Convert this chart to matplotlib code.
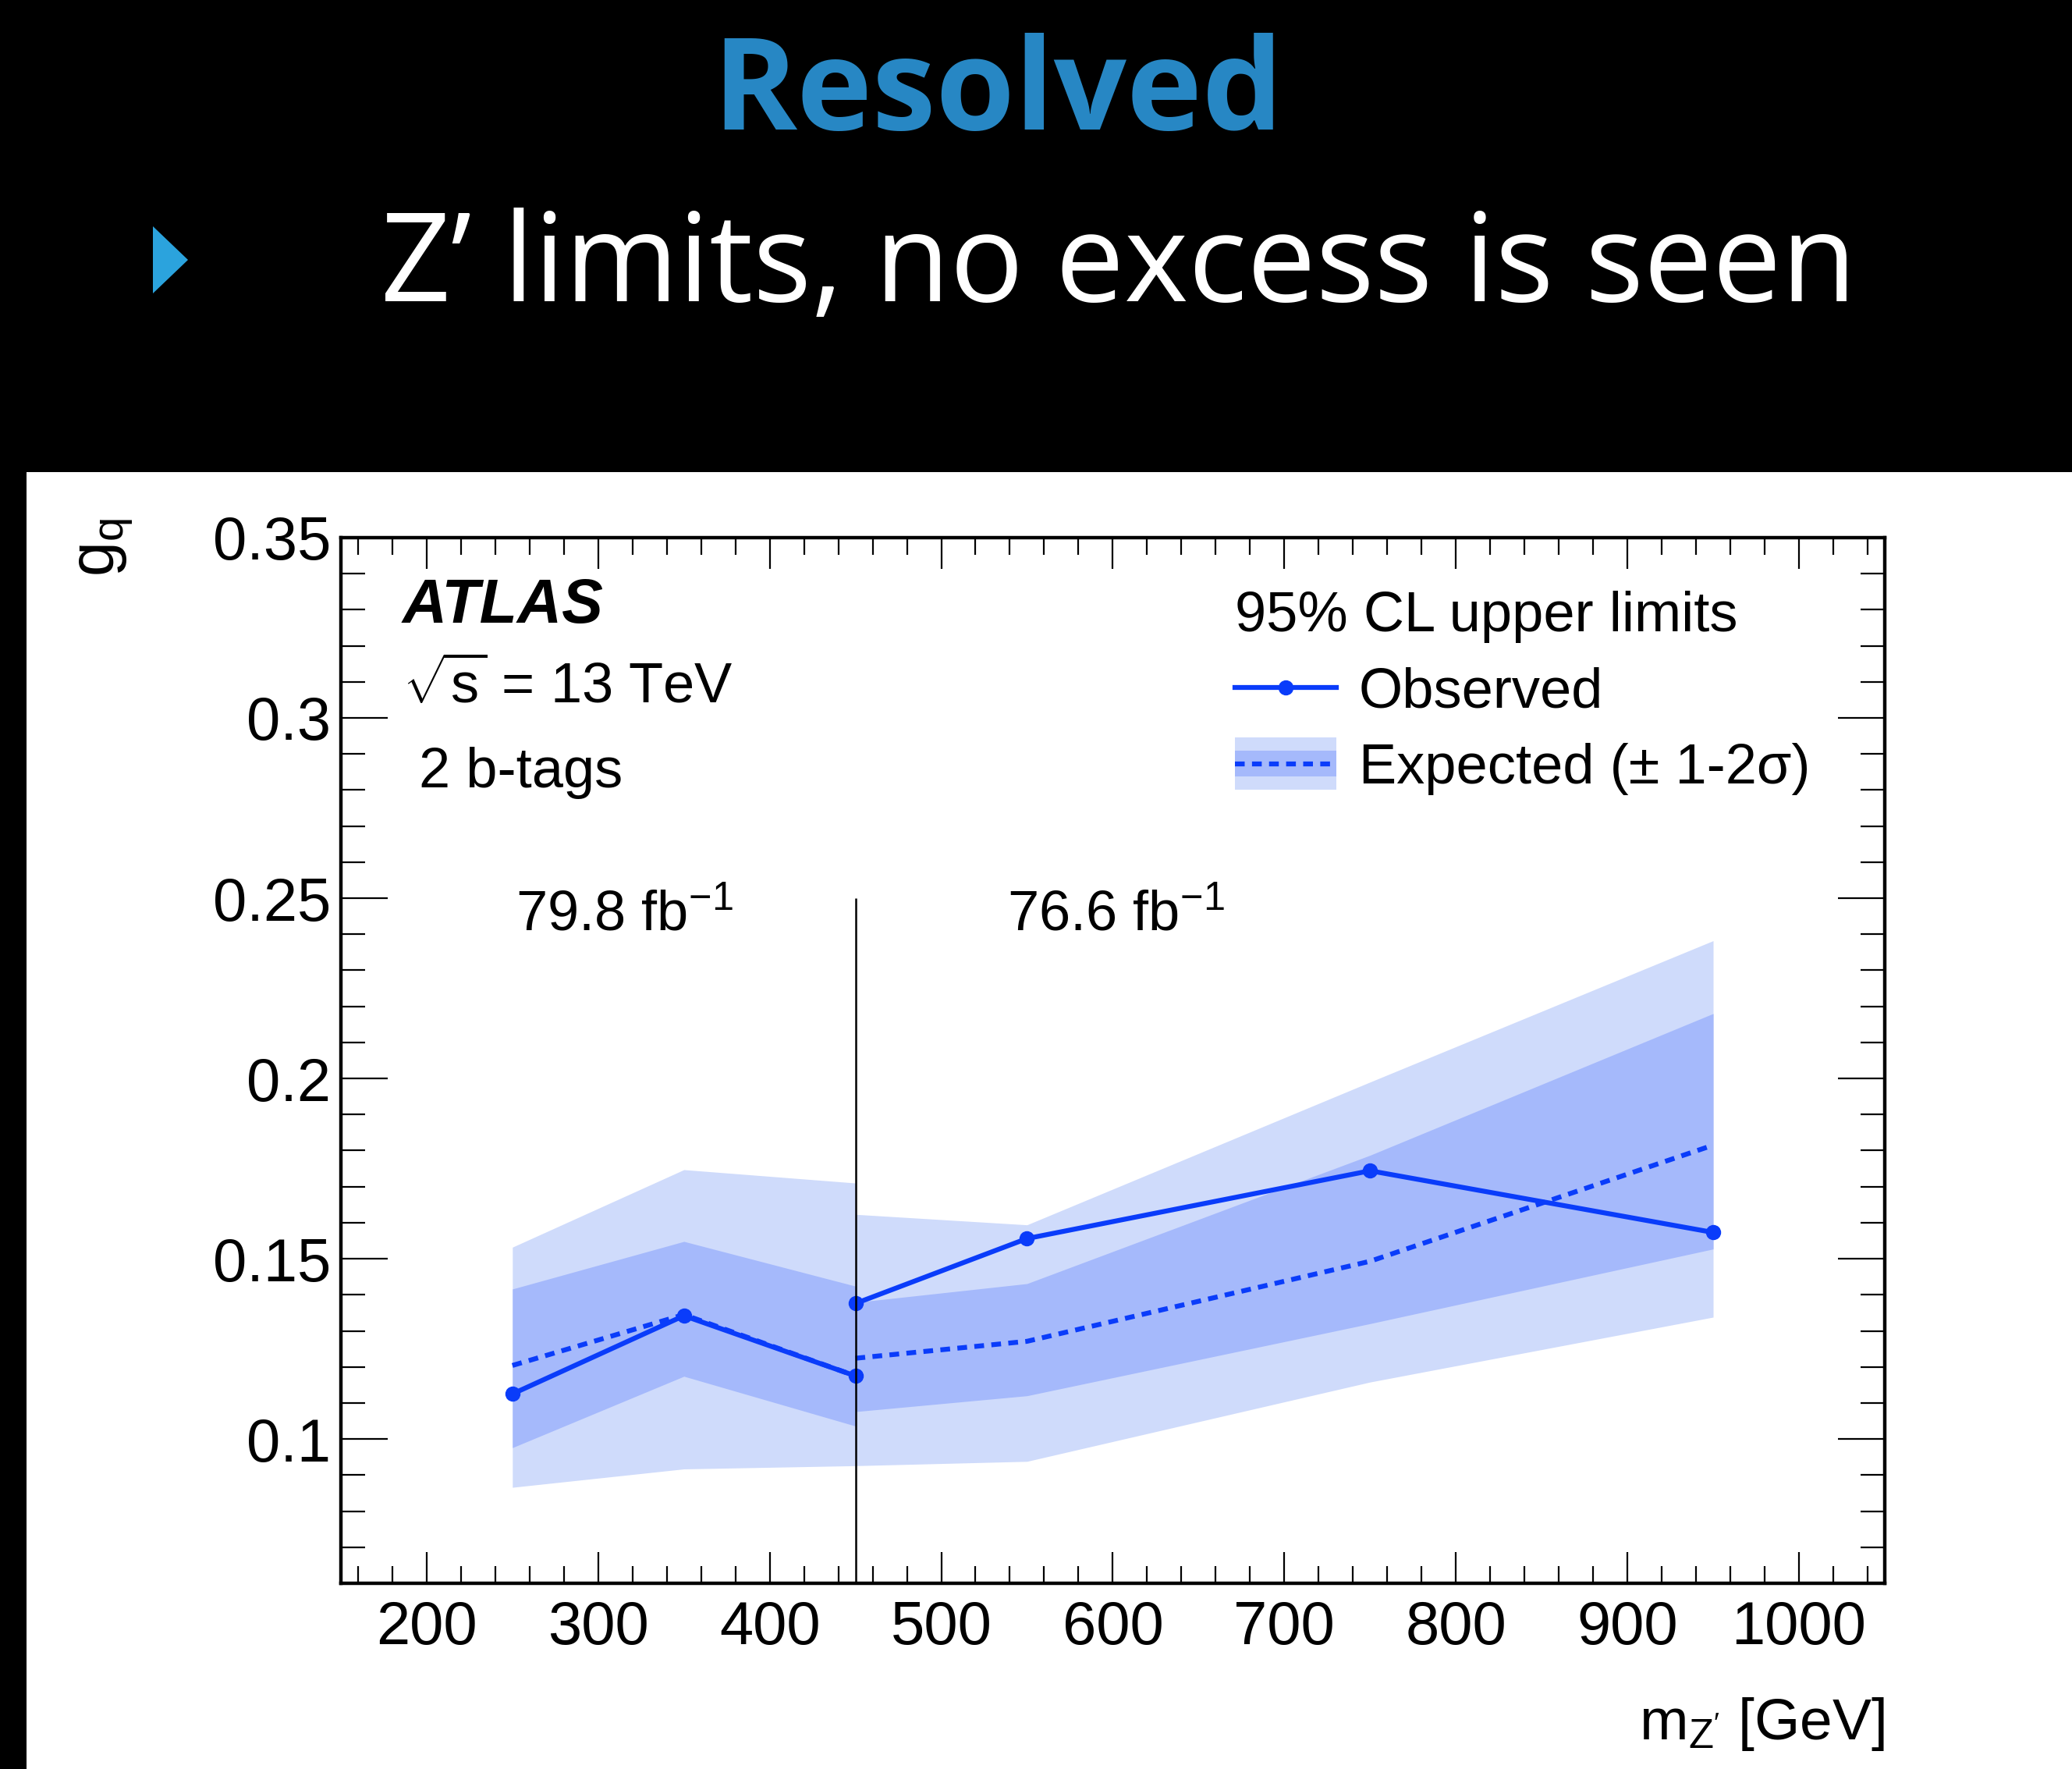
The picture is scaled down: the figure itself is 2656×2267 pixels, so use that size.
import matplotlib
matplotlib.use('Agg')
import matplotlib.pyplot as plt
from matplotlib.patches import Rectangle, Polygon
from matplotlib.lines import Line2D
from matplotlib.legend_handler import HandlerBase
from matplotlib.ticker import MultipleLocator

plt.rcParams['font.family'] = ['Liberation Sans', 'DejaVu Sans']
plt.rcParams['mathtext.fontset'] = 'custom'
plt.rcParams['mathtext.rm'] = 'Liberation Sans'
plt.rcParams['mathtext.it'] = 'Liberation Sans:italic'
plt.rcParams['mathtext.bf'] = 'Liberation Sans:bold'

# data: m_Z' [GeV] and g_q limits, two luminosity regions
mass_low = [250, 350, 450]
obs_low = [0.1125, 0.1342, 0.1175]
exp_low = [0.1204, 0.1345, 0.1175]
p1_low = [0.1416, 0.1548, 0.1424]
m1_low = [0.0976, 0.1174, 0.1036]
p2_low = [0.1532, 0.1747, 0.1710]
m2_low = [0.0866, 0.0917, 0.0926]

mass_high = [450, 550, 750, 950]
obs_high = [0.1376, 0.1556, 0.1744, 0.1573]
exp_high = [0.1224, 0.1271, 0.1493, 0.1815]
p1_high = [0.1379, 0.1431, 0.1787, 0.2180]
m1_high = [0.1076, 0.1120, 0.1320, 0.1527]
p2_high = [0.1623, 0.1594, 0.1990, 0.2382]
m2_high = [0.0926, 0.0938, 0.1158, 0.1338]

split_mass = 450
lumi_labels = [r'79.8 fb$^{-1}$', r'76.6 fb$^{-1}$']

LINE = '#0A3CFA'
LIGHT = '#CFDBFB'
DARK = '#A5B9FB'
FS = 52
LW = 4.5
DASH = (2.0, 1.5)


class BandHandler(HandlerBase):
    def create_artists(self, legend, orig_handle, xdescent, ydescent,
                       width, height, fontsize, trans):
        x0 = -xdescent
        yc = -ydescent + height / 2
        light = Rectangle((x0, yc - 0.66 * height), width, 1.32 * height,
                          fc=LIGHT, ec='none', transform=trans)
        dark = Rectangle((x0, yc - 0.33 * height), width, 0.66 * height,
                         fc=DARK, ec='none', transform=trans)
        line = Line2D([x0, x0 + width], [yc, yc], color=LINE, lw=LW,
                      dashes=DASH, transform=trans)
        return [light, dark, line]


fig = plt.figure(figsize=(26.56, 22.67), dpi=100, facecolor='black')

# white slide panel + bullet
fig.patches.append(Rectangle((34 / 2656, 0), 1, 1 - 605 / 2267, transform=fig.transFigure,
                             fc='white', ec='none', zorder=-10))
fig.patches.append(Polygon([(196 / 2656, 1 - 290 / 2267), (241 / 2656, 1 - 333 / 2267),
                            (196 / 2656, 1 - 376 / 2267)], closed=True,
                           transform=fig.transFigure, fc='#2BA3DD', ec='none', zorder=-10))
fig.text(0.4816, 0.9455, 'Resolved', color='#2787C4', fontsize=118, fontweight='bold',
         family='Open Sans', ha='center', va='center')
fig.text(0.1837, 0.8297, 'Z’ limits, no excess is seen', color='white', fontsize=113,
         family='Open Sans', ha='left', va='baseline')

ax = fig.add_axes([0.1645, 0.105, 0.7451, 0.5911])
ax.set_facecolor('white')

ax.fill_between(mass_low, m2_low, p2_low, color=LIGHT, lw=0, zorder=1)
ax.fill_between(mass_low, m1_low, p1_low, color=DARK, lw=0, zorder=2)
ax.fill_between(mass_high, m2_high, p2_high, color=LIGHT, lw=0, zorder=1)
ax.fill_between(mass_high, m1_high, p1_high, color=DARK, lw=0, zorder=2)

ax.plot(mass_low, exp_low, color=LINE, lw=LW, dashes=DASH, zorder=3)
ax.plot(mass_high, exp_high, color=LINE, lw=LW, dashes=DASH, zorder=3)
ax.plot(mass_low, obs_low, color=LINE, lw=LW, marker='o', ms=13, zorder=4)
ax.plot(mass_high, obs_high, color=LINE, lw=LW, marker='o', ms=13, zorder=4)

ax.set_xlim(150, 1050)
ax.set_ylim(0.06, 0.35)
ax.vlines(split_mass, 0.06, 0.25, color='black', lw=1.8, zorder=5)

ax.xaxis.set_major_locator(MultipleLocator(100))
ax.xaxis.set_minor_locator(MultipleLocator(20))
ax.yaxis.set_minor_locator(MultipleLocator(0.01))
ax.set_yticks([0.1, 0.15, 0.2, 0.25, 0.3, 0.35])
ax.set_yticklabels(['0.1', '0.15', '0.2', '0.25', '0.3', '0.35'])
ax.tick_params(axis='both', which='both', direction='in', top=True, right=True,
               labelsize=56, width=1.6, color='black')
ax.tick_params(axis='x', which='major', length=29, pad=15)
ax.tick_params(axis='x', which='minor', length=16)
ax.tick_params(axis='y', which='major', length=43, pad=9)
ax.tick_params(axis='y', which='minor', length=22)
for s in ax.spines.values():
    s.set_linewidth(3.2)

ax.set_xlabel(r"$\mathregular{m_{Z'}}$ [GeV]", fontsize=54, loc='right', labelpad=36)
ax.set_ylabel(r'$\mathregular{g_q}$', fontsize=58, loc='top')
ax.yaxis.set_label_coords(-0.133, 1.019)

ax.text(0.040, 0.934, 'ATLAS', transform=ax.transAxes, fontsize=57, fontweight='bold',
        fontstyle='italic', va='center')
ax.text(0.040, 0.857, r'$\mathregular{\sqrt{s}}$ = 13 TeV', transform=ax.transAxes,
        fontsize=FS, va='center')
ax.text(0.0505, 0.775, '2 b-tags', transform=ax.transAxes, fontsize=FS, va='center')
ax.text(0.113, 0.638, lumi_labels[0], transform=ax.transAxes, fontsize=FS, va='center')
ax.text(0.4315, 0.638, lumi_labels[1], transform=ax.transAxes, fontsize=FS, va='center')

handles = [Line2D([], [], color=LINE, lw=LW, marker='o', ms=13), 'band']
leg = ax.legend(handles, ['Observed', 'Expected (± 1-2σ)'],
                handler_map={str: BandHandler()}, title='95% CL upper limits',
                title_fontsize=FS, fontsize=FS, loc='upper left',
                bbox_to_anchor=(0.579, 0.949), frameon=False, borderpad=0,
                borderaxespad=0, handlelength=1.8, handletextpad=0.4,
                labelspacing=0.42, alignment='left')

fig.savefig('out.png', dpi=100, facecolor='black')
